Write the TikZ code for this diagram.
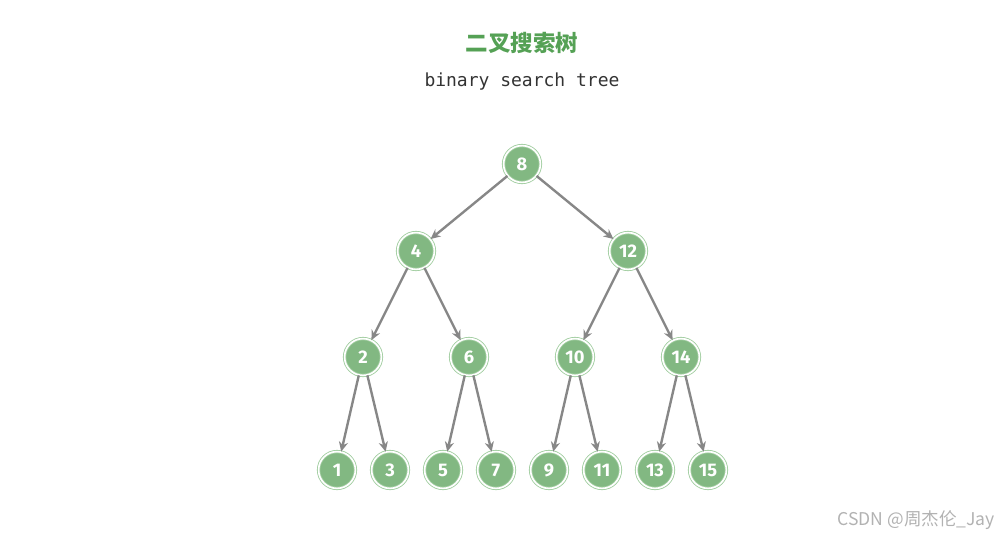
\documentclass[tikz,border=0pt]{standalone}
\usepackage{fontspec}
\usetikzlibrary{arrows.meta}
\setmainfont{Fira Sans}
\newfontfamily\cjk{Noto Sans CJK SC}
\newfontfamily\monofont{DejaVu Sans Mono}
\definecolor{treegreen}{HTML}{82B882}
\definecolor{ringgreen}{HTML}{9FCC9E}
\definecolor{titlegreen}{HTML}{55A155}
\definecolor{edgegray}{HTML}{878787}
\tikzset{
  bstnode/.style={circle, minimum size=0.92cm, inner sep=0pt, fill=treegreen,
    draw=ringgreen, double=white, double distance=1.2pt, line width=0.6pt,
    text=white, font=\fontsize{13}{13}\selectfont\bfseries},
  bstedge/.style={->, edgegray, line width=1.7pt}
}
\begin{document}
\begin{tikzpicture}[scale=1.0, >={Stealth[length=7pt, width=6.5pt]}]
    \useasboundingbox (0, 0) rectangle (25.05, -13.45);
    % 标题
    \node[titlegreen, font=\cjk\bfseries\fontsize{16}{16}\selectfont] (title) at (13.05, -1.08) {二叉搜索树};
    \node[black!80, font=\monofont\fontsize{12.8}{12.8}\selectfont] (subtitle) at (13.05, -2.05) {binary search tree};
    % 根
    \node[bstnode] (n8) at (13.05, -4.1) {8};
    % 第二层
    \node[bstnode] (n4) at (10.4, -6.275) {4};
    \node[bstnode] (n12) at (15.7, -6.275) {12};
    % 第三层
    \node[bstnode] (n2) at (9.075, -8.925) {2};
    \node[bstnode] (n6) at (11.725, -8.925) {6};
    \node[bstnode] (n10) at (14.375, -8.925) {10};
    \node[bstnode] (n14) at (17.025, -8.925) {14};
    % 叶子
    \node[bstnode] (n1) at (8.425, -11.75) {1};
    \node[bstnode] (n3) at (9.75, -11.75) {3};
    \node[bstnode] (n5) at (11.075, -11.75) {5};
    \node[bstnode] (n7) at (12.4, -11.75) {7};
    \node[bstnode] (n9) at (13.725, -11.75) {9};
    \node[bstnode] (n11) at (15.05, -11.75) {11};
    \node[bstnode] (n13) at (16.375, -11.75) {13};
    \node[bstnode] (n15) at (17.7, -11.75) {15};
    % 边
    \draw[bstedge] (n8) -- (n4);
    \draw[bstedge] (n8) -- (n12);
    \draw[bstedge] (n4) -- (n2);
    \draw[bstedge] (n4) -- (n6);
    \draw[bstedge] (n12) -- (n10);
    \draw[bstedge] (n12) -- (n14);
    \draw[bstedge] (n2) -- (n1);
    \draw[bstedge] (n2) -- (n3);
    \draw[bstedge] (n6) -- (n5);
    \draw[bstedge] (n6) -- (n7);
    \draw[bstedge] (n10) -- (n9);
    \draw[bstedge] (n10) -- (n11);
    \draw[bstedge] (n14) -- (n13);
    \draw[bstedge] (n14) -- (n15);
    % 水印
    \node[black!30, font=\cjk\fontsize{12.5}{12.5}\selectfont, anchor=east] (mark) at (25.0, -13.0) {CSDN @周杰伦\_Jay};
\end{tikzpicture}
\end{document}
